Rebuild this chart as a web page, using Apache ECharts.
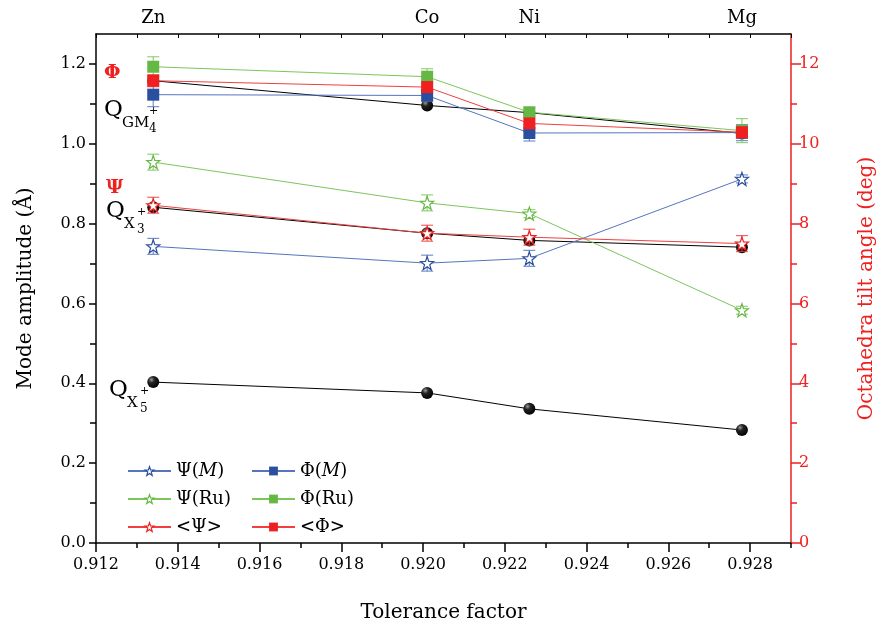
<!DOCTYPE html>
<html>
<head>
<meta charset="utf-8">
<script src="https://cdn.jsdelivr.net/npm/echarts@6/dist/echarts.min.js"></script>
<style>
  html, body { margin: 0; padding: 0; background: #fff; }
  #chart { width: 880px; height: 626px; }
</style>
</head>
<body>
<div id="chart"></div>
<script>
// Tolerance factor of each compound (x positions) and the B-site element names
const elements = ['Zn', 'Co', 'Ni', 'Mg'];
const tolerance = [0.9134, 0.9201, 0.9226, 0.9278];

// Mode amplitudes (Å), left axis
const qGM4 = [1.158, 1.096, 1.078, 1.026];
const qX3 = [0.841, 0.776, 0.758, 0.741];
const qX5 = [0.403, 0.376, 0.336, 0.283];

// Octahedra tilt angles (deg), right axis, with their error half-widths
const psiM = [7.43, 7.01, 7.13, 9.12];
const psiMErr = [0.2, 0.2, 0.2, 0.1];
const psiRu = [9.54, 8.52, 8.25, 5.83];
const psiRuErr = [0.2, 0.2, 0.1, 0.1];
const psiAvg = [8.46, 7.76, 7.66, 7.50];
const psiAvgErr = [0.2, 0.2, 0.2, 0.2];
const phiM = [11.23, 11.21, 10.27, 10.28];
const phiMErr = [0.3, 0.15, 0.2, 0.2];
const phiRu = [11.93, 11.68, 10.79, 10.33];
const phiRuErr = [0.25, 0.2, 0.1, 0.3];
const phiAvg = [11.58, 11.42, 10.51, 10.29];
const phiAvgErr = [0.15, 0.15, 0.2, 0.15];

// Axis ticks
const xMajorTicks = [0.912, 0.914, 0.916, 0.918, 0.920, 0.922, 0.924, 0.926, 0.928];
const xMinorTicks = [0.913, 0.915, 0.917, 0.919, 0.921, 0.923, 0.925, 0.927, 0.929];
const xTopTicks = [0.912, 0.913, 0.914, 0.915, 0.916, 0.917, 0.918, 0.919, 0.920, 0.921,
                   0.922, 0.923, 0.924, 0.925, 0.926, 0.927, 0.928, 0.929];
const leftMajorTicks = [0, 0.2, 0.4, 0.6, 0.8, 1.0, 1.2];
const leftMinorTicks = [0.1, 0.3, 0.5, 0.7, 0.9, 1.1];
const rightMajorTicks = [0, 2, 4, 6, 8, 10, 12];
const rightMinorTicks = [1, 3, 5, 7, 9, 11];

const FONT = '"DejaVu Serif", "Liberation Serif", serif';
const BLUE = '#2b4f9f', BLUE_LINE = '#5675bd';
const GREEN = '#66b845', GREEN_LINE = '#7cc65c';
const RED = '#ee2020', RED_LINE = '#f04040';

const STAR = 'path://M50,2 L61.76,35.82 L97.55,36.55 L69.02,58.18 L79.39,92.45 L50,72 L20.61,92.45 L30.98,58.18 L2.45,36.55 L38.24,35.82 Z';

const pairs = (ys) => tolerance.map((x, i) => [x, ys[i]]);
const bars = (ys, es) => tolerance.map((x, i) => [x, ys[i] - es[i], ys[i] + es[i]]);

const ball = {
  type: 'radial', x: 0.35, y: 0.3, r: 0.75,
  colorStops: [{ offset: 0, color: '#9a9a9a' }, { offset: 0.35, color: '#222' }, { offset: 1, color: '#000' }]
};

function qLine(name, ys) {
  return {
    name, type: 'line', xAxisIndex: 0, yAxisIndex: 0, data: pairs(ys),
    symbol: 'circle', symbolSize: 12,
    lineStyle: { color: '#000', width: 1 },
    itemStyle: { color: ball, borderWidth: 0 },
    z: 2, animation: false
  };
}

function tiltLine(name, ys, color, lineColor, star) {
  return {
    name, type: 'line', xAxisIndex: 0, yAxisIndex: 1, data: pairs(ys),
    symbol: star ? STAR : 'rect', symbolSize: star ? 13 : 12,
    lineStyle: { color: lineColor, width: 1 },
    itemStyle: star ? { color: '#fff', borderColor: color, borderWidth: 1.2 }
                    : { color: color, borderWidth: 0 },
    z: 4, animation: false
  };
}

function errorBars(ys, es, color) {
  return {
    type: 'custom', xAxisIndex: 0, yAxisIndex: 1, data: bars(ys, es),
    z: 3, silent: true, animation: false,
    renderItem(params, api) {
      const x = api.value(0);
      const top = api.coord([x, api.value(2)]);
      const bot = api.coord([x, api.value(1)]);
      const w = 6;
      const st = { stroke: color, lineWidth: 1.2, opacity: 0.8 };
      return {
        type: 'group', children: [
          { type: 'line', shape: { x1: top[0], y1: top[1], x2: bot[0], y2: bot[1] }, style: st },
          { type: 'line', shape: { x1: top[0] - w, y1: top[1], x2: top[0] + w, y2: top[1] }, style: st },
          { type: 'line', shape: { x1: bot[0] - w, y1: bot[1], x2: bot[0] + w, y2: bot[1] }, style: st }
        ]
      };
    }
  };
}

// Mode label "Q" with subscript irrep name, superscript "+" and lower index
function qLabel(x, yc, sub, subW, low) {
  const t = (text, px, py, size) => ({
    type: 'text', x: px, y: py,
    style: { text, font: size + 'px ' + FONT, fill: '#000', align: 'left', verticalAlign: 'middle' }
  });
  const sx = x + 18;
  return [
    t('Q', x, yc, 23),
    t(sub, sx, yc + 13, 15),
    t('+', sx + subW + 1, yc + 1, 11),
    t(low, sx + subW + 1, yc + 19, 12)
  ];
}

const chart = echarts.init(document.getElementById('chart'));

const legendText = {
  fontFamily: FONT, fontSize: 18, color: '#000',
  rich: { i: { fontFamily: FONT, fontSize: 18, fontStyle: 'italic' } }
};
const legendFormat = (n) => n.replace('(M)', '({i|M})');
const starItem = (name, color) => ({ name, itemStyle: { color: '#fff', borderColor: color, borderWidth: 1.2 } });

chart.setOption({
  backgroundColor: '#fff',
  animation: false,
  grid: { left: 96, right: 89, top: 34, bottom: 83, containLabel: false, outerBoundsMode: 'none' },
  legend: [
    { left: 122, top: 457, orient: 'vertical', itemWidth: 43, itemHeight: 11, itemGap: 10,
      data: [starItem('Ψ(M)', BLUE), starItem('Ψ(Ru)', GREEN), starItem('<Ψ>', RED)],
      textStyle: legendText, formatter: legendFormat, selectedMode: false },
    { left: 246, top: 457, orient: 'vertical', itemWidth: 43, itemHeight: 11, itemGap: 10,
      data: ['Φ(M)', 'Φ(Ru)', '<Φ>'], textStyle: legendText, formatter: legendFormat, selectedMode: false }
  ],
  xAxis: [
    {
      type: 'value', position: 'bottom', min: 0.912, max: 0.929,
      name: 'Tolerance factor', nameLocation: 'middle', nameGap: 60,
      nameTextStyle: { fontFamily: FONT, fontSize: 20, color: '#000' },
      axisLine: { show: true, onZero: false, lineStyle: { color: '#000', width: 1.5 } },
      axisTick: { show: true, customValues: xMajorTicks, length: 9, lineStyle: { color: '#000', width: 1.5 } },
      axisLabel: { customValues: xMajorTicks, formatter: (v) => v.toFixed(3), margin: 14,
                   fontFamily: FONT, fontSize: 16, color: '#000' },
      splitLine: { show: false }
    },
    {
      type: 'value', position: 'bottom', min: 0.912, max: 0.929,
      axisLine: { show: false },
      axisTick: { show: true, customValues: xMinorTicks, length: 5, lineStyle: { color: '#000', width: 1.5 } },
      axisLabel: { show: false }, splitLine: { show: false }
    },
    {
      type: 'value', position: 'top', min: 0.912, max: 0.929,
      axisLine: { show: true, onZero: false, lineStyle: { color: '#000', width: 1.5 } },
      axisTick: { show: true, inside: true, customValues: xTopTicks, length: 4, lineStyle: { color: '#000', width: 1 } },
      axisLabel: { customValues: tolerance, formatter: (v) => elements[tolerance.indexOf(v)] || '',
                   margin: 7, fontFamily: FONT, fontSize: 18, color: '#000' },
      splitLine: { show: false }
    }
  ],
  yAxis: [
    {
      type: 'value', position: 'left', min: 0, max: 1.275,
      name: 'Mode amplitude (Å)', nameLocation: 'middle', nameGap: 60, nameRotate: 90,
      nameTextStyle: { fontFamily: FONT, fontSize: 20, color: '#000' },
      axisLine: { show: true, onZero: false, lineStyle: { color: '#000', width: 1.5 } },
      axisTick: { show: true, customValues: leftMajorTicks, length: 7, lineStyle: { color: '#000', width: 1.5 } },
      axisLabel: { customValues: leftMajorTicks, formatter: (v) => v.toFixed(1), margin: 10,
                   fontFamily: FONT, fontSize: 16, color: '#000' },
      splitLine: { show: false }
    },
    {
      type: 'value', position: 'right', min: 0, max: 12.75,
      name: 'Octahedra tilt angle (deg)', nameLocation: 'middle', nameGap: 66, nameRotate: 90,
      nameTextStyle: { fontFamily: FONT, fontSize: 20, color: RED },
      axisLine: { show: true, onZero: false, lineStyle: { color: RED, width: 1.5 } },
      axisTick: { show: true, customValues: rightMajorTicks, length: 10, lineStyle: { color: RED, width: 1.5 } },
      axisLabel: { customValues: rightMajorTicks, margin: 8, fontFamily: FONT, fontSize: 16, color: RED },
      splitLine: { show: false }
    },
    {
      type: 'value', position: 'left', min: 0, max: 1.275,
      axisLine: { show: false },
      axisTick: { show: true, customValues: leftMinorTicks, length: 6, lineStyle: { color: '#000', width: 1.5 } },
      axisLabel: { show: false }, splitLine: { show: false }
    },
    {
      type: 'value', position: 'right', min: 0, max: 12.75,
      axisLine: { show: false },
      axisTick: { show: true, customValues: rightMinorTicks, length: 6, lineStyle: { color: RED, width: 1.5 } },
      axisLabel: { show: false }, splitLine: { show: false }
    }
  ],
  graphic: [
    { type: 'text', x: 104, y: 73, style: { text: 'Φ', font: 'bold 19px ' + FONT, fill: RED, verticalAlign: 'middle' } },
    { type: 'text', x: 106, y: 188, style: { text: 'Ψ', font: 'bold 19px ' + FONT, fill: RED, verticalAlign: 'middle' } },
    ...qLabel(104, 110, 'GM', 26, '4'),
    ...qLabel(106, 211, 'X', 12, '3'),
    ...qLabel(109, 390, 'X', 12, '5')
  ],
  series: [
    qLine('Q_X5', qX5),
    qLine('Q_X3', qX3),
    qLine('Q_GM4', qGM4),
    errorBars(psiM, psiMErr, BLUE_LINE),
    errorBars(psiRu, psiRuErr, GREEN_LINE),
    errorBars(phiM, phiMErr, BLUE_LINE),
    errorBars(phiRu, phiRuErr, GREEN_LINE),
    errorBars(psiAvg, psiAvgErr, RED_LINE),
    errorBars(phiAvg, phiAvgErr, RED_LINE),
    tiltLine('Ψ(M)', psiM, BLUE, BLUE_LINE, true),
    tiltLine('Φ(M)', phiM, BLUE, BLUE_LINE, false),
    tiltLine('Ψ(Ru)', psiRu, GREEN, GREEN_LINE, true),
    tiltLine('Φ(Ru)', phiRu, GREEN, GREEN_LINE, false),
    tiltLine('<Ψ>', psiAvg, RED, RED_LINE, true),
    tiltLine('<Φ>', phiAvg, RED, RED_LINE, false)
  ]
});
</script>
</body>
</html>
